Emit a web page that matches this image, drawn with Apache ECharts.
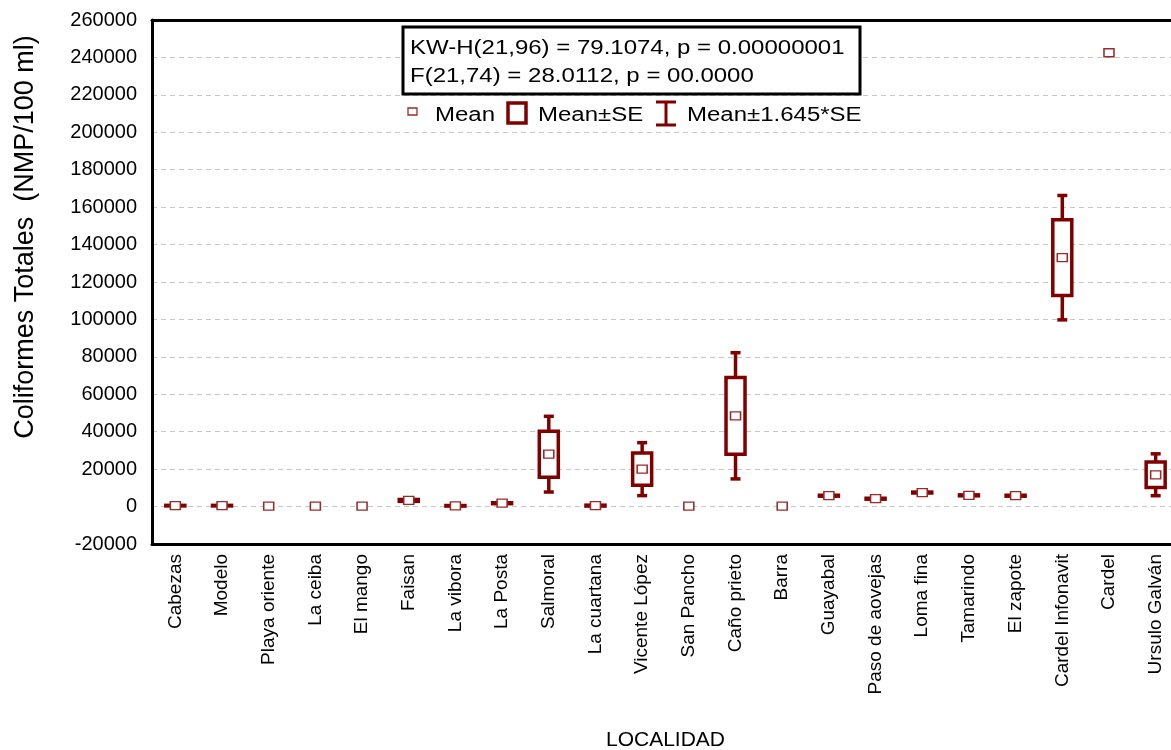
<!DOCTYPE html>
<html>
<head>
<meta charset="utf-8">
<script src="https://cdn.jsdelivr.net/npm/echarts@6/dist/echarts.min.js"></script>
<style>
  html, body { margin: 0; padding: 0; background: #fff; }
  #main { width: 1171px; height: 750px; }
</style>
</head>
<body>
<div id="main"></div>
<script>
// datos
var localidades = ['Cabezas', 'Modelo', 'Playa oriente', 'La ceiba', 'El mango', 'Faisan', 'La vibora', 'La Posta',
  'Salmoral', 'La cuartana', 'Vicente López', 'San Pancho', 'Caño prieto', 'Barra', 'Guayabal', 'Paso de aovejas',
  'Loma fina', 'Tamarindo', 'El zapote', 'Cardel Infonavit', 'Cardel', 'Ursulo Galván'];
var medias = [500, 500, 300, 300, 300, 3300, 400, 1800, 28000, 500, 20000, 300, 48500, 300, 5800, 4200,
  7500, 6000, 5800, 133000, 242500, 17000];
var errorEst = [150, 150, 0, 0, 0, 500, 150, 250, 12300, 250, 8600, 0, 20500, 0, 250, 250,
  250, 250, 250, 20200, 0, 6800];
var yMin = -20000, yMax = 260000, yPaso = 20000;
var factor = 1.645;

var rojo = '#800000';
var fuente = 'Liberation Sans';

var chart = echarts.init(document.getElementById('main'));

var datosErr = [];
var datosMedia = [];
for (var i = 0; i < localidades.length; i++) {
  datosErr.push([i, medias[i], errorEst[i]]);
  datosMedia.push([i, medias[i]]);
}

function dibujaCaja(params, api) {
  var i = api.value(0), m = api.value(1), s = api.value(2);
  if (!s) return;
  var x = api.coord([i, m])[0];
  var yCajaSup = api.coord([i, m + s])[1];
  var yCajaInf = api.coord([i, m - s])[1];
  var yBigSup = api.coord([i, m + factor * s])[1];
  var yBigInf = api.coord([i, m - factor * s])[1];
  var bw = 19, cw = 10;
  var st = { stroke: rojo, lineWidth: 3.5 };
  return {
    type: 'group',
    children: [
      { type: 'line', shape: { x1: x, y1: yBigSup, x2: x, y2: yCajaSup }, style: st },
      { type: 'line', shape: { x1: x, y1: yCajaInf, x2: x, y2: yBigInf }, style: st },
      { type: 'line', shape: { x1: x - cw / 2, y1: yBigSup, x2: x + cw / 2, y2: yBigSup }, style: st },
      { type: 'line', shape: { x1: x - cw / 2, y1: yBigInf, x2: x + cw / 2, y2: yBigInf }, style: st },
      { type: 'rect', shape: { x: x - bw / 2, y: yCajaSup, width: bw, height: yCajaInf - yCajaSup },
        style: { fill: '#fff', stroke: rojo, lineWidth: 3.5 } }
    ]
  };
}

function texto(t, x, y, size) {
  return {
    type: 'text', x: x, y: y, scaleX: 1.2, z: 100,
    style: { text: t, x: 0, y: 0, font: size + 'px ' + fuente, fill: '#000', verticalAlign: 'middle' }
  };
}

var option = {
  backgroundColor: '#fff',
  animation: false,
  textStyle: { fontFamily: fuente },
  grid: { left: 152, top: 20, width: 1027, height: 524, outerBoundsMode: 'none', containLabel: false },
  xAxis: [
    {
      type: 'category',
      data: localidades,
      position: 'bottom',
      name: 'LOCALIDAD',
      nameLocation: 'middle',
      nameGap: 186,
      nameTextStyle: { fontSize: 21, color: '#000' },
      axisLine: { onZero: false, lineStyle: { color: '#000', width: 3 } },
      axisTick: { inside: true, length: 4, alignWithLabel: true, lineStyle: { color: '#000', width: 2 } },
      axisLabel: { rotate: 90, interval: 0, fontSize: 19, color: '#000', margin: 10 },
      splitLine: { show: false }
    },
    {
      type: 'category',
      data: localidades,
      position: 'top',
      axisLine: { onZero: false, lineStyle: { color: '#000', width: 3 } },
      axisTick: { inside: true, length: 4, alignWithLabel: true, lineStyle: { color: '#000', width: 2 } },
      axisLabel: { show: false },
      splitLine: { show: false }
    }
  ],
  yAxis: {
    type: 'value',
    min: yMin,
    max: yMax,
    interval: yPaso,
    name: 'Coliformes Totales  (NMP/100 ml)',
    nameLocation: 'middle',
    nameGap: 113,
    nameTextStyle: { fontSize: 27, color: '#000', padding: [0, 0, 0, 90] },
    axisLine: { show: true, lineStyle: { color: '#000', width: 3 } },
    axisTick: { show: false },
    axisLabel: { fontSize: 20, color: '#000', margin: 15, formatter: function (v) { return String(v); } },
    splitLine: { lineStyle: { color: '#c8c8c8', width: 1, type: [5, 4] } }
  },
  graphic: [
    { type: 'rect', z: 99, shape: { x: 403, y: 27, width: 457, height: 67 },
      style: { fill: '#fff', stroke: '#000', lineWidth: 3 } },
    texto('KW-H(21,96) = 79.1074, p = 0.00000001', 410, 48, 20),
    texto('F(21,74) = 28.0112, p = 00.0000', 410, 76, 20),
    // leyenda
    { type: 'rect', z: 100, shape: { x: 408, y: 108, width: 9, height: 7 },
      style: { fill: '#fff', stroke: '#9b2b2b', lineWidth: 1.3 } },
    texto('Mean', 435, 115, 20),
    { type: 'rect', z: 100, shape: { x: 508, y: 103, width: 18, height: 20 },
      style: { fill: '#fff', stroke: rojo, lineWidth: 3.5 } },
    texto('Mean±SE', 538, 115, 20),
    { type: 'polyline', z: 100, shape: { points: [[666, 102], [666, 125]] }, style: { stroke: rojo, lineWidth: 3 } },
    { type: 'polyline', z: 100, shape: { points: [[656, 102], [676, 102]] }, style: { stroke: rojo, lineWidth: 3 } },
    { type: 'polyline', z: 100, shape: { points: [[656, 125], [676, 125]] }, style: { stroke: rojo, lineWidth: 3 } },
    texto('Mean±1.645*SE', 687, 115, 20)
  ],
  series: [
    {
      name: 'Mean±SE',
      type: 'custom',
      renderItem: dibujaCaja,
      encode: { x: 0, y: 1 },
      data: datosErr,
      z: 2
    },
    {
      name: 'Mean',
      type: 'scatter',
      symbol: 'rect',
      symbolSize: [10, 8],
      itemStyle: { color: '#fff', borderColor: '#9b2b2b', borderWidth: 1.4, opacity: 1 },
      data: datosMedia,
      z: 3
    }
  ]
};

chart.setOption(option);
</script>
</body>
</html>
